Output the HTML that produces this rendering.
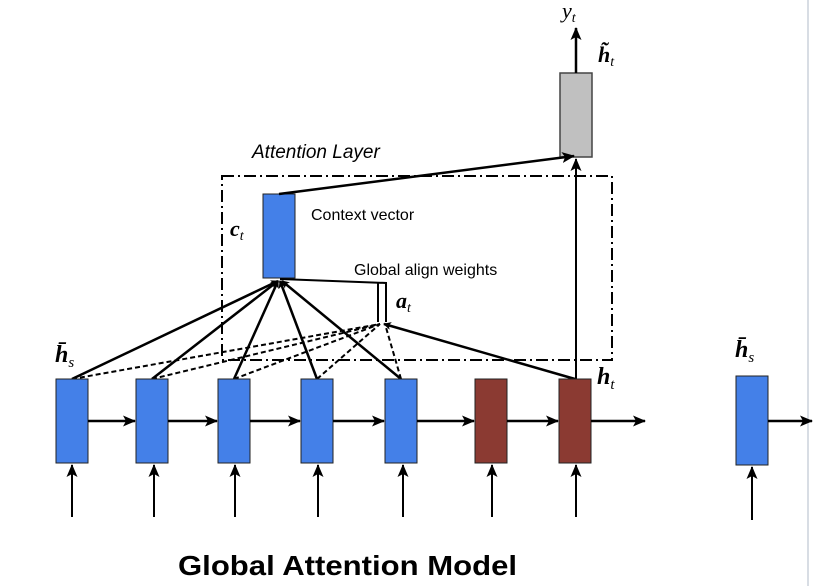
<!DOCTYPE html>
<html><head><style>
body{margin:0;background:#fff;width:813px;height:586px;overflow:hidden}
svg{display:block}
text{font-family:"Liberation Sans",sans-serif}
.m{font-family:"Liberation Serif",serif;font-style:italic}
</style></head><body>
<svg width="813" height="586" viewBox="0 0 813 586">
<defs><marker id="a" markerWidth="8" markerHeight="8" refX="7" refY="4" orient="auto" markerUnits="userSpaceOnUse"><path d="M0,0 L8,4 L0,8 L2,4z" fill="#000"/></marker>
<marker id="b" markerWidth="13" markerHeight="11" refX="12" refY="5.5" orient="auto" markerUnits="userSpaceOnUse"><path d="M0,0 L13,5.5 L0,11 L3,5.5z" fill="#000"/></marker></defs>
<line x1="808" y1="0" x2="808" y2="586" stroke="#d8dde4" stroke-width="2"/>
<rect x="222" y="176" width="390" height="184" fill="none" stroke="#000" stroke-width="2" stroke-dasharray="12,4,2,4"/>
<text x="252" y="158" font-size="19" font-style="italic">Attention Layer</text>
<rect x="560" y="73" width="32" height="84" fill="#c0c0c0" stroke="#444" stroke-width="1.5"/>
<line x1="576" y1="73" x2="576" y2="28" stroke="#000" stroke-width="2.5" marker-end="url(#b)"/>
<text x="562" y="18" class="m" font-size="22">y<tspan font-size="14" dy="4">t</tspan></text>
<text x="598" y="62" class="m" font-size="22" font-weight="bold">h̃<tspan font-size="14" dy="4" font-weight="normal">t</tspan></text>
<rect x="263" y="194" width="32" height="84" fill="#4480e8" stroke="#222" stroke-width="1"/>
<text x="230" y="236" class="m" font-size="22" font-weight="bold">c<tspan font-size="14" dy="4" font-weight="normal">t</tspan></text>
<text x="311" y="220" font-size="16">Context vector</text>
<text x="354" y="275" font-size="16">Global align weights</text>
<line x1="279" y1="194" x2="574" y2="156" stroke="#000" stroke-width="2.5" marker-end="url(#b)"/>
<line x1="576" y1="379" x2="576" y2="159" stroke="#000" stroke-width="2" marker-end="url(#b)"/>
<polyline points="280,279 386,283 386,322" fill="none" stroke="#000" stroke-width="2"/>
<line x1="378" y1="283" x2="378" y2="322" stroke="#000" stroke-width="2"/>
<text x="396" y="308" class="m" font-size="22" font-weight="bold">a<tspan font-size="14" dy="4" font-weight="normal">t</tspan></text>
<g stroke="#000" stroke-width="2.5" marker-end="url(#a)">
<line x1="72" y1="379" x2="278" y2="281"/>
<line x1="152" y1="379" x2="278" y2="281"/>
<line x1="234" y1="379" x2="278" y2="281"/>
<line x1="317" y1="379" x2="280" y2="281"/>
<line x1="401" y1="379" x2="282" y2="281"/>
<line x1="575" y1="379" x2="384" y2="324"/>
</g>
<g stroke="#000" stroke-width="2" stroke-dasharray="5,3" fill="none">
<line x1="72" y1="379" x2="380" y2="324"/>
<line x1="152" y1="379" x2="380" y2="324"/>
<line x1="234" y1="379" x2="380" y2="324"/>
<line x1="317" y1="379" x2="380" y2="324"/>
<line x1="401" y1="379" x2="385" y2="324"/>
</g>
<g stroke="#222" stroke-width="1">
<rect x="56" y="379" width="32" height="84" fill="#4480e8"/>
<rect x="136" y="379" width="32" height="84" fill="#4480e8"/>
<rect x="218" y="379" width="32" height="84" fill="#4480e8"/>
<rect x="301" y="379" width="32" height="84" fill="#4480e8"/>
<rect x="385" y="379" width="32" height="84" fill="#4480e8"/>
<rect x="475" y="379" width="32" height="84" fill="#8b3a32"/>
<rect x="559" y="379" width="32" height="84" fill="#8b3a32"/>
<rect x="736" y="376" width="32" height="89" fill="#4480e8"/>
</g>
<g stroke="#000" stroke-width="2.5" marker-end="url(#b)">
<line x1="88" y1="421" x2="135" y2="421"/>
<line x1="168" y1="421" x2="217" y2="421"/>
<line x1="250" y1="421" x2="300" y2="421"/>
<line x1="333" y1="421" x2="384" y2="421"/>
<line x1="417" y1="421" x2="474" y2="421"/>
<line x1="507" y1="421" x2="558" y2="421"/>
<line x1="591" y1="421" x2="645" y2="421"/>
<line x1="768" y1="421" x2="812" y2="421"/>
</g>
<g stroke="#000" stroke-width="2" marker-end="url(#b)">
<line x1="72" y1="517" x2="72" y2="465"/>
<line x1="154" y1="517" x2="154" y2="465"/>
<line x1="235" y1="517" x2="235" y2="465"/>
<line x1="318" y1="517" x2="318" y2="465"/>
<line x1="403" y1="517" x2="403" y2="465"/>
<line x1="492" y1="517" x2="492" y2="465"/>
<line x1="576" y1="517" x2="576" y2="465"/>
<line x1="752" y1="520" x2="752" y2="467"/>
</g>
<text x="55" y="362" class="m" font-size="24" font-weight="bold">h̄<tspan font-size="15" dy="5" font-weight="normal">s</tspan></text>
<text x="735" y="357" class="m" font-size="24" font-weight="bold">h̄<tspan font-size="15" dy="5" font-weight="normal">s</tspan></text>
<text x="597" y="384" class="m" font-size="24" font-weight="bold">h<tspan font-size="15" dy="5" font-weight="normal">t</tspan></text>
<text x="178" y="575" font-size="28" font-weight="bold" textLength="339" lengthAdjust="spacingAndGlyphs">Global Attention Model</text>
</svg>
</body></html>
